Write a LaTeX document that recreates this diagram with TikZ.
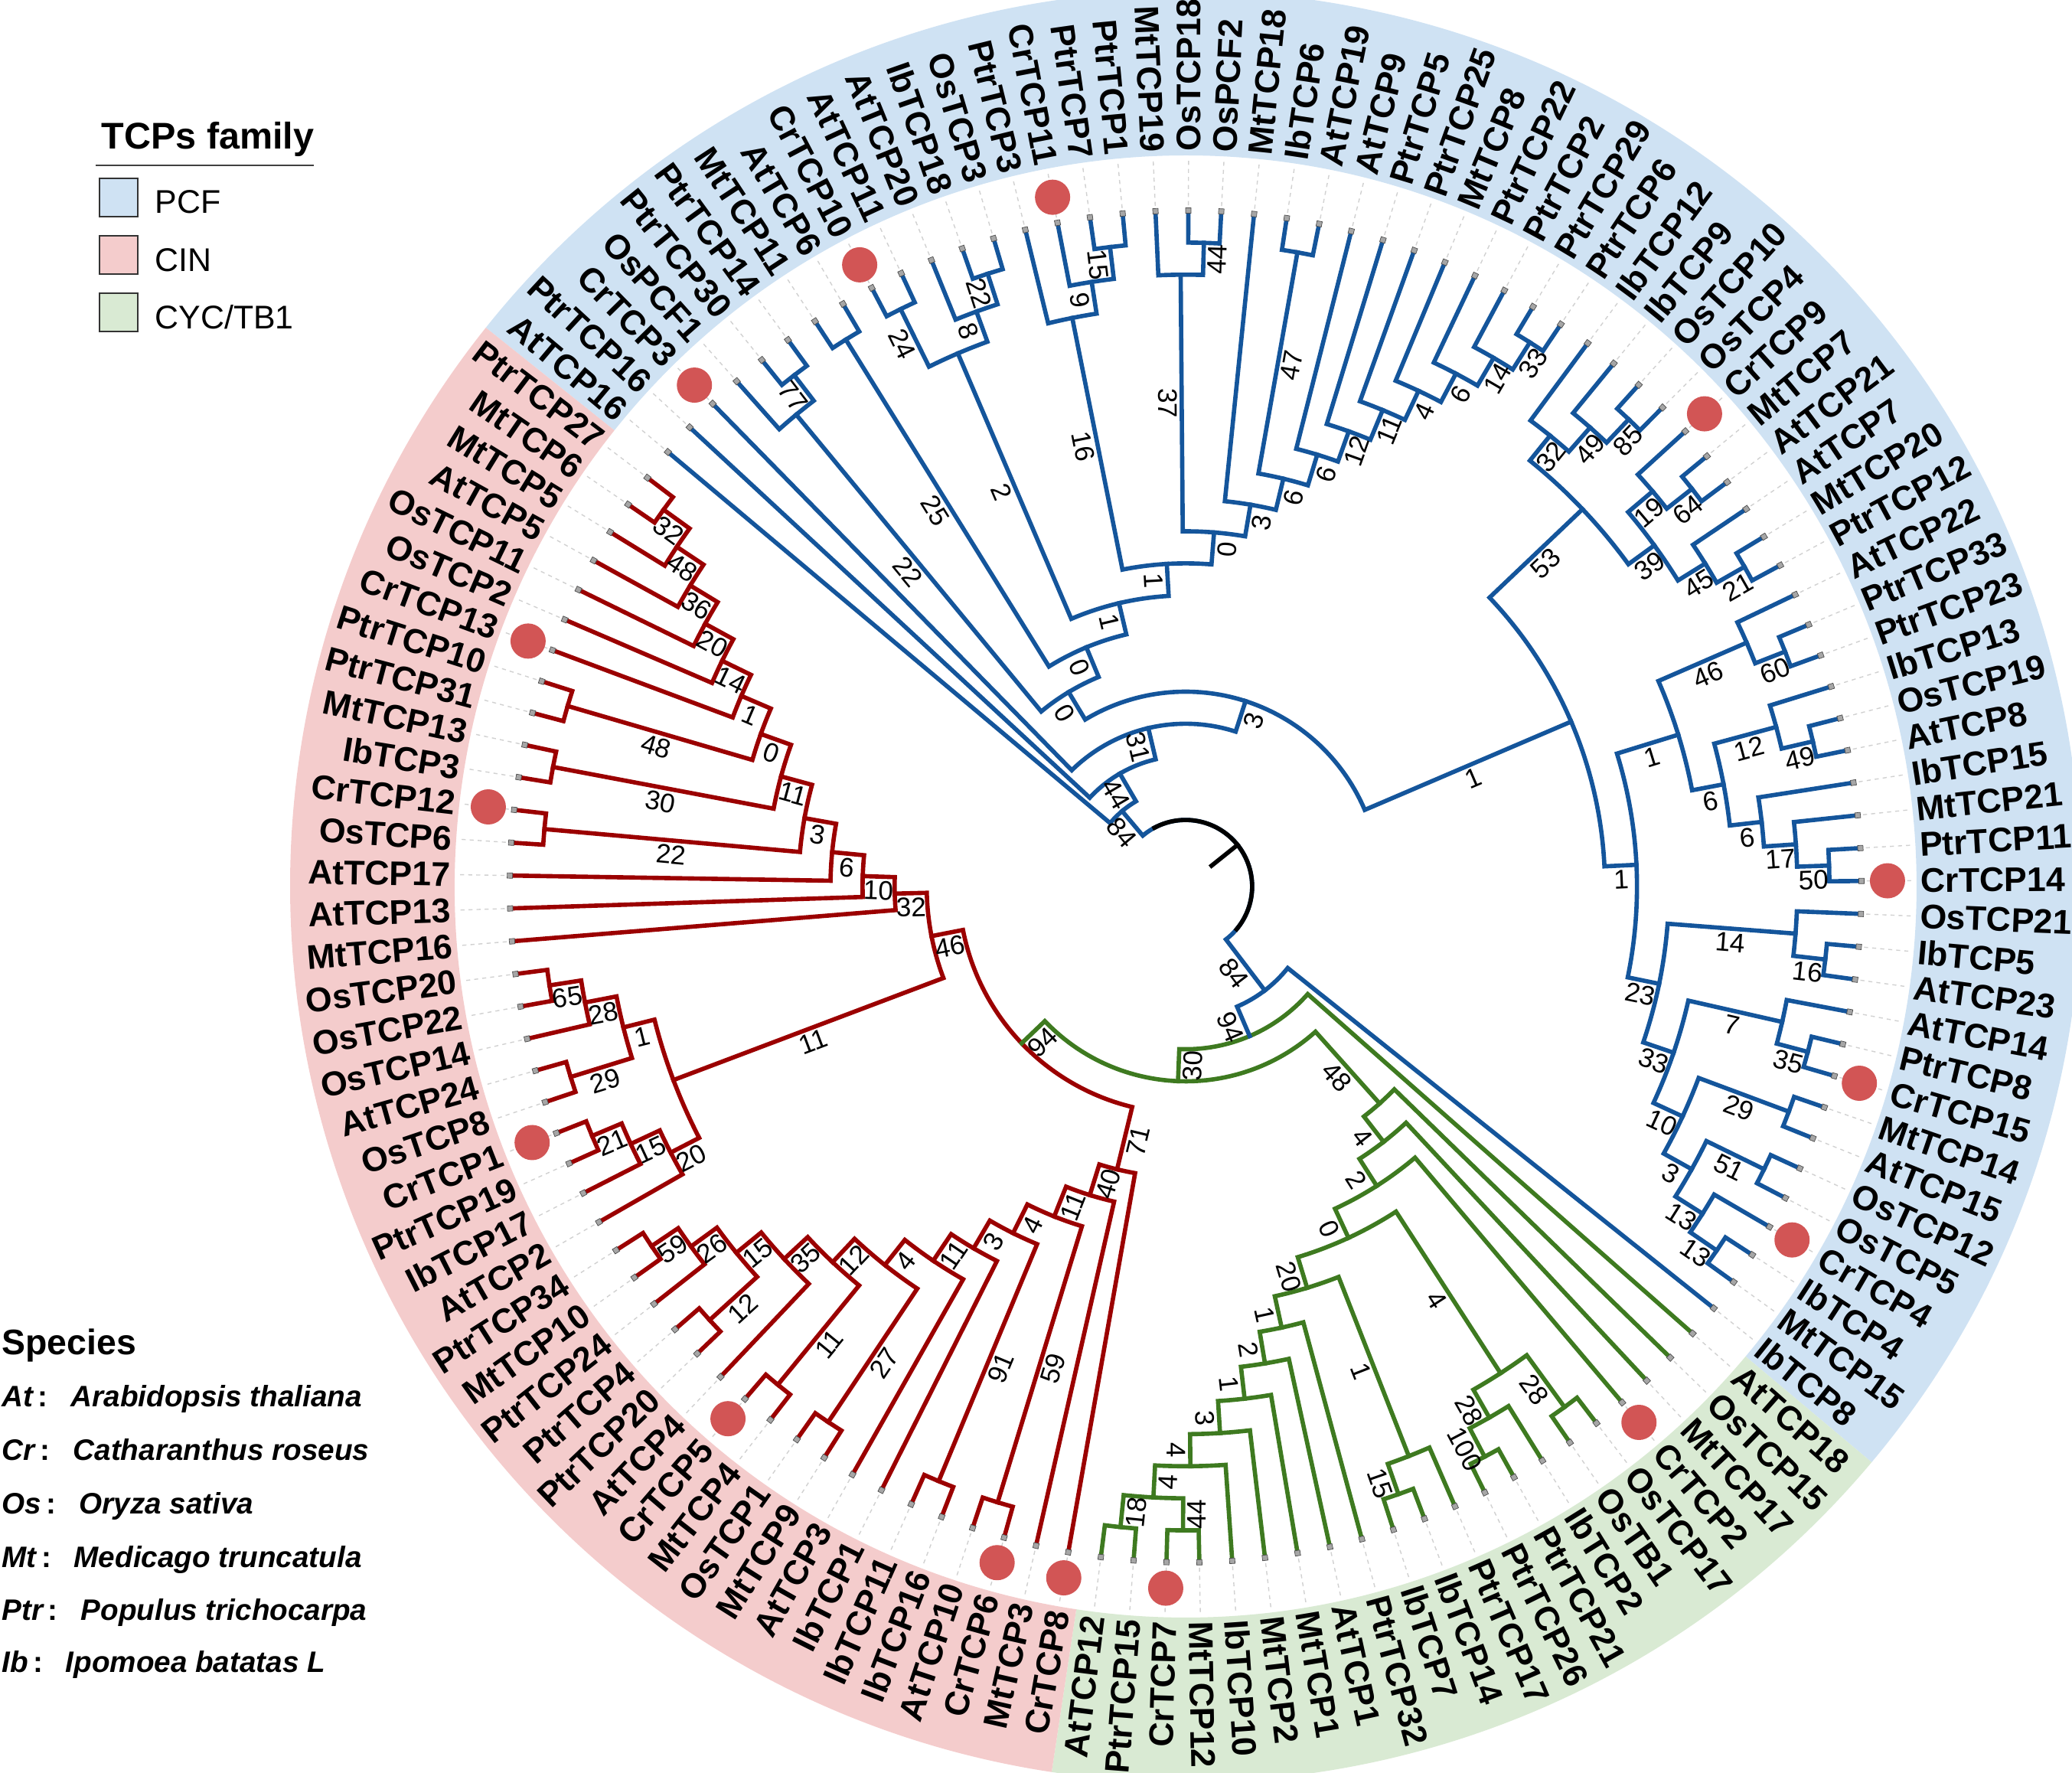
\documentclass[tikz,border=0pt]{standalone}
\usepackage{fontspec}
\setmainfont{Liberation Sans}
\usetikzlibrary{calc}

\definecolor{pcfline}{RGB}{20,85,155}
\definecolor{cinline}{RGB}{155,0,0}
\definecolor{cycline}{RGB}{62,122,32}
\definecolor{pcffill}{RGB}{207,226,243}
\definecolor{cinfill}{RGB}{244,204,204}
\definecolor{cycfill}{RGB}{217,234,211}
\definecolor{crdot}{RGB}{210,85,85}

\tikzset{
  branch/.style={line width=1.6pt, line join=miter, line cap=rect},
  bslabel/.style={anchor=north, inner sep=1.5pt, text=black, font=\fontsize{10}{12}\selectfont},
  leaflabel/.style={inner sep=0pt, text=black, font=\bfseries\fontsize{12.7}{14}\selectfont},
  tipmark/.style={rectangle, minimum size=0.07cm, inner sep=0pt, fill=black!35, draw=black!70, line width=0.2pt},
  tipline/.style={black!18, line width=0.4pt, dash pattern=on 1.5pt off 1.5pt},
  crmark/.style={circle, fill=crdot, minimum size=0.46cm, inner sep=0pt},
  legbox/.style={rectangle, draw=black!80, line width=0.5pt, minimum size=0.5cm, inner sep=0pt},
  legtext/.style={anchor=base west, inner sep=0pt, font=\fontsize{12.2}{14}\selectfont},
  sptext/.style={anchor=base west, inner sep=0pt, font=\bfseries\itshape\fontsize{11}{13}\selectfont},
}

% node radius = 8.83 - 0.419*height
\newcommand\supportlabel[2]{%
  \ifcsname bs@#1\endcsname
    \pgfmathsetmacro\angC{\csname ang@#1\endcsname}%
    \pgfmathsetmacro\radC{(\csname rad@#1\endcsname+#2)/2}%
    \pgfmathsetmacro\rotC{cos(\angC)>=0 ? \angC : \angC+180}%
    \node[bslabel, rotate=\rotC] (bs-#1) at (\angC:\radC) {\csname bs@#1\endcsname};
  \fi}
\newcommand\clade[6][]{%
  \pgfmathsetmacro\angA{\csname ang@#4\endcsname}%
  \pgfmathsetmacro\angB{\csname ang@#5\endcsname}%
  \pgfmathsetmacro\angM{(\angA+\angB)/2}%
  \pgfmathsetmacro\radM{8.83-0.419*#3}%
  \expandafter\xdef\csname ang@#2\endcsname{\angM}%
  \expandafter\xdef\csname rad@#2\endcsname{\radM}%
  \expandafter\xdef\csname bs@#2\endcsname{#6}%
  \coordinate (#2) at (\angM:\radM);
  \draw[branch,#1] (#4) -- (\angA:\radM) arc[start angle=\angA, end angle=\angB, radius=\radM] -- (#5);
  \supportlabel{#4}{\radM}%
  \supportlabel{#5}{\radM}}

\begin{document}
\begin{tikzpicture}
\useasboundingbox (-15.49,-11.58) rectangle (11.58,11.58);
\clip (-15.49,-11.58) rectangle (11.58,11.58);

% family ring
\fill[pcffill] (141.395:9.55) arc[start angle=141.395, end angle=-40, radius=9.55]
  -- (-40:11.7) arc[start angle=-40, end angle=141.395, radius=11.7] -- cycle;
\fill[cycfill] (-40:9.55) arc[start angle=-40, end angle=-98.605, radius=9.55]
  -- (-98.605:11.7) arc[start angle=-98.605, end angle=-40, radius=11.7] -- cycle;
\fill[cinfill] (-98.605:9.55) arc[start angle=-98.605, end angle=-218.605, radius=9.55]
  -- (-218.605:11.7) arc[start angle=-218.605, end angle=-98.605, radius=11.7] -- cycle;

% legends
\node[anchor=base west, inner sep=0pt, font=\bfseries\fontsize{13.8}{16}\selectfont] (famtitle) at (-14.17,9.63) {TCPs family};
\draw[black!75, line width=0.6pt] (-14.24,9.42) -- (-11.39,9.42);
\node[legbox, fill=pcffill] (boxpcf) at (-13.94,9.00) {};
\node[legtext] (txtpcf) at (-13.47,8.79) {PCF};
\node[legbox, fill=cinfill] (boxcin) at (-13.94,8.25) {};
\node[legtext] (txtcin) at (-13.47,8.03) {CIN};
\node[legbox, fill=cycfill] (boxcyc) at (-13.94,7.50) {};
\node[legtext] (txtcyc) at (-13.47,7.28) {CYC/TB1};

\node[anchor=base west, inner sep=0pt, font=\bfseries\fontsize{13.2}{16}\selectfont] (sphead) at (-15.47,-6.12) {Species};
\node[sptext] (abAt) at (-15.47,-6.80) {At\,{\upshape:}};
\node[sptext] (nmAt) at (-14.57,-6.80) {Arabidopsis thaliana};
\node[sptext] (abCr) at (-15.47,-7.50) {Cr\,{\upshape:}};
\node[sptext] (nmCr) at (-14.54,-7.50) {Catharanthus roseus};
\node[sptext] (abOs) at (-15.47,-8.20) {Os\,{\upshape:}};
\node[sptext] (nmOs) at (-14.46,-8.20) {Oryza sativa};
\node[sptext] (abMt) at (-15.47,-8.90) {Mt\,{\upshape:}};
\node[sptext] (nmMt) at (-14.53,-8.90) {Medicago truncatula};
\node[sptext] (abPtr) at (-15.47,-9.59) {Ptr\,{\upshape:}};
\node[sptext] (nmPtr) at (-14.44,-9.59) {Populus trichocarpa};
\node[sptext] (abIb) at (-15.47,-10.27) {Ib\,{\upshape:}};
\node[sptext] (nmIb) at (-14.64,-10.27) {Ipomoea batatas L};

% leaves
\foreach \nm [count=\i from 0] in {AtTCP16, PtrTCP16, CrTCP3, OsPCF1, PtrTCP30, PtrTCP14, MtTCP11, AtTCP6,
  CrTCP10, AtTCP11, AtTCP20, IbTCP18, OsTCP3, PtrTCP3, CrTCP11, PtrTCP7, PtrTCP1, MtTCP19, OsTCP18,
  OsPCF2, MtTCP18, IbTCP6, AtTCP19, AtTCP9, PtrTCP5, PtrTCP25, MtTCP8, PtrTCP22, PtrTCP2, PtrTCP29,
  PtrTCP6, IbTCP12, IbTCP9, OsTCP10, OsTCP4, CrTCP9, MtTCP7, AtTCP21, AtTCP7, MtTCP20, PtrTCP12,
  AtTCP22, PtrTCP33, PtrTCP23, IbTCP13, OsTCP19, AtTCP8, IbTCP15, MtTCP21, PtrTCP11, CrTCP14, OsTCP21,
  IbTCP5, AtTCP23, AtTCP14, PtrTCP8, CrTCP15, MtTCP14, AtTCP15, OsTCP12, OsTCP5, CrTCP4, IbTCP4,
  MtTCP15, IbTCP8,
  AtTCP18, OsTCP15, MtTCP17, CrTCP2, OsTCP17, OsTB1, IbTCP2, PtrTCP21, PtrTCP26, PtrTCP17, IbTCP14,
  IbTCP7, PtrTCP32, AtTCP1, MtTCP1, MtTCP2, IbTCP10, MtTCP12, CrTCP7, PtrTCP15, AtTCP12,
  CrTCP8, MtTCP3, CrTCP6, AtTCP10, IbTCP16, IbTCP11, IbTCP1, AtTCP3, MtTCP9, OsTCP1, MtTCP4, CrTCP5,
  AtTCP4, PtrTCP20, PtrTCP4, PtrTCP24, MtTCP10, PtrTCP34, AtTCP2, IbTCP17, PtrTCP19, CrTCP1, OsTCP8,
  AtTCP24, OsTCP14, OsTCP22, OsTCP20, MtTCP16, AtTCP13, AtTCP17, OsTCP6, CrTCP12, IbTCP3, MtTCP13,
  PtrTCP31, PtrTCP10, CrTCP13, OsTCP2, OsTCP11, AtTCP5, MtTCP5, MtTCP6, PtrTCP27} {
  \pgfmathsetmacro\leafang{140-360/129*\i}
  \expandafter\xdef\csname ang@L\i\endcsname{\leafang}
  \coordinate (L\i) at (\leafang:8.83);
  \draw[tipline] (\leafang:8.9) -- (\leafang:9.52);
  \pgfmathtruncatemacro\rside{cos(\leafang)>=0 ? 1 : 0}
  \ifnum\rside=1
    \node[leaflabel, anchor=west, rotate=\leafang] (N\i) at (\leafang:9.6) {\nm};
  \else
    \node[leaflabel, anchor=east, rotate=\leafang+180] (N\i) at (\leafang:9.6) {\nm};
  \fi
}

% PCF
\begin{scope}[color=pcfline]
\clade{n45}{1}{L4}{L5}{77}
\clade{n345}{2}{L3}{n45}{22}
\clade{n67}{1}{L6}{L7}{25}
\clade{n89}{1}{L8}{L9}{24}
\clade{n1112}{1}{L11}{L12}{22}
\clade{n1012}{2}{L10}{n1112}{8}
\clade{pA8}{3}{n89}{n1012}{2}
\clade{n1516}{1}{L15}{L16}{15}
\clade{n1416}{2}{L14}{n1516}{9}
\clade{pA10}{3}{L13}{n1416}{16}
\clade{n1819}{1}{L18}{L19}{44}
\clade{pA12}{2}{L17}{n1819}{37}
\clade{n2122}{1}{L21}{L22}{47}
\clade{n2930}{1}{L29}{L30}{33}
\clade{n2830}{2}{L28}{n2930}{14}
\clade{n2730}{3}{L27}{n2830}{6}
\clade{pA19}{4}{L26}{n2730}{4}
\clade{pA18}{5}{L25}{pA19}{11}
\clade{pA17}{6}{L24}{pA18}{12}
\clade{pA16}{7}{L23}{pA17}{6}
\clade{pA14}{8}{n2122}{pA16}{6}
\clade{pA13}{9}{L20}{pA14}{3}
\clade{pA11}{10}{pA12}{pA13}{0}
\clade{pA9}{11}{pA10}{pA11}{1}
\clade{pA7}{12}{pA8}{pA9}{1}
\clade{pA6}{13}{n67}{pA7}{0}
\clade{pA5}{14}{n345}{pA6}{0}
\clade{n3334}{1}{L33}{L34}{85}
\clade{n3234}{2}{L32}{n3334}{49}
\clade{pI}{3}{L31}{n3234}{32}
\clade{n3637}{1}{L36}{L37}{64}
\clade{n3537}{2}{L35}{n3637}{19}
\clade{n3940}{1}{L39}{L40}{21}
\clade{n3840}{2}{L38}{n3940}{45}
\clade{pJ}{3}{n3537}{n3840}{39}
\clade{pG}{4}{pI}{pJ}{53}
\clade{n4243}{1}{L42}{L43}{60}
\clade{n4143}{2}{L41}{n4243}{46}
\clade{n4546}{1}{L45}{L46}{49}
\clade{pN12}{2}{L44}{n4546}{12}
\clade{n4950}{1}{L49}{L50}{50}
\clade{n4850}{2}{L48}{n4950}{17}
\clade{pN}{3}{L47}{n4850}{6}
\clade{pM}{4}{pN12}{pN}{6}
\clade{pK}{5}{n4143}{pM}{1}
\clade{n5253}{1}{L52}{L53}{16}
\clade{pP}{2}{L51}{n5253}{14}
\clade{n5556}{1}{L55}{L56}{35}
\clade{pS}{2}{L54}{n5556}{7}
\clade{n5758}{1}{L57}{L58}{29}
\clade{n5960}{1}{L59}{L60}{51}
\clade{n6263}{1}{L62}{L63}{13}
\clade{pX}{2}{L61}{n6263}{13}
\clade{pV}{3}{n5960}{pX}{3}
\clade{pT}{4}{n5758}{pV}{10}
\clade{pQ}{5}{pS}{pT}{33}
\clade{pL}{6}{pP}{pQ}{23}
\clade{pH}{7}{pK}{pL}{1}
\clade{pF}{8}{pG}{pH}{1}
\clade{pA4}{15}{pA5}{pF}{3}
\clade{pA3}{16}{L2}{pA4}{31}
\clade{pA2}{17}{L1}{pA3}{44}
\clade{pA}{18}{L0}{pA2}{84}
\end{scope}

% CYC/TB1
\begin{scope}[color=cycline]
\clade{n6970}{1}{L69}{L70}{28}
\clade{n7273}{1}{L72}{L73}{100}
\clade{gY}{2}{L71}{n7273}{28}
\clade{gE5}{3}{n6970}{gY}{4}
\clade{n7576}{1}{L75}{L76}{15}
\clade{gE7}{2}{L74}{n7576}{1}
\clade{n8283}{1}{L82}{L83}{44}
\clade{n8485}{1}{L84}{L85}{18}
\clade{gE13}{2}{n8283}{n8485}{4}
\clade{gE12}{3}{L81}{gE13}{4}
\clade{gE11}{4}{L80}{gE12}{3}
\clade{gE10}{5}{L79}{gE11}{1}
\clade{gE9}{6}{L78}{gE10}{2}
\clade{gE8}{7}{L77}{gE9}{1}
\clade{gE6}{8}{gE7}{gE8}{20}
\clade{gE4}{9}{gE5}{gE6}{0}
\clade{gE3}{10}{L68}{gE4}{2}
\clade{gE2}{11}{L67}{gE3}{4}
\clade{gE}{12}{L66}{gE2}{48}
\end{scope}

% CIN
\begin{scope}[color=cinline]
\clade{n8889}{1}{L88}{L89}{59}
\clade{n9091}{1}{L90}{L91}{91}
\clade{n9495}{1}{L94}{L95}{27}
\clade{n9697}{1}{L96}{L97}{11}
\clade{n99100}{1}{L99}{L100}{12}
\clade{n102103}{1}{L102}{L103}{59}
\clade{n101103}{2}{L101}{n102103}{26}
\clade{cK11}{3}{n99100}{n101103}{15}
\clade{cK10}{4}{L98}{cK11}{35}
\clade{cK9}{5}{n9697}{cK10}{12}
\clade{cK8}{6}{n9495}{cK9}{4}
\clade{cK7}{7}{L93}{cK8}{11}
\clade{cK6}{8}{L92}{cK7}{3}
\clade{cK5}{9}{n9091}{cK6}{4}
\clade{cK4}{10}{n8889}{cK5}{11}
\clade{cK3}{11}{L87}{cK4}{40}
\clade{cK2}{12}{L86}{cK3}{71}
\clade{n106107}{1}{L106}{L107}{21}
\clade{n105107}{2}{L105}{n106107}{15}
\clade{n104107}{3}{L104}{n105107}{20}
\clade{n108109}{1}{L108}{L109}{29}
\clade{n111112}{1}{L111}{L112}{65}
\clade{n110112}{2}{L110}{n111112}{28}
\clade{cJ}{3}{n108109}{n110112}{1}
\clade{cA}{4}{n104107}{cJ}{11}
\clade{n116117}{1}{L116}{L117}{22}
\clade{n118119}{1}{L118}{L119}{30}
\clade{n120121}{1}{L120}{L121}{48}
\clade{n127128}{1}{L127}{L128}{32}
\clade{n126128}{2}{L126}{n127128}{48}
\clade{n125128}{3}{L125}{n126128}{36}
\clade{n124128}{4}{L124}{n125128}{20}
\clade{cI}{5}{L123}{n124128}{14}
\clade{cH}{6}{L122}{cI}{1}
\clade{cG}{7}{n120121}{cH}{0}
\clade{cF}{8}{n118119}{cG}{11}
\clade{cE}{9}{n116117}{cF}{3}
\clade{cD}{10}{L115}{cE}{6}
\clade{cC}{11}{L114}{cD}{10}
\clade{cB}{12}{L113}{cC}{32}
\clade{cP1}{13}{cA}{cB}{46}
\clade{cPk}{14}{cK2}{cP1}{94}
\end{scope}

% backbone
\clade[cycline]{jD}{15}{gE}{cPk}{30}
\clade[cycline]{jC}{16}{L65}{jD}{94}
\clade[pcfline]{jB}{17}{L64}{jC}{84}
\clade[pcfline]{treeroot}{19}{pA}{jB}{}
\draw[branch, black] (118:0.869) arc[start angle=118, end angle=-40, radius=0.869];
\draw[branch, black] (treeroot) -- ($(0,0)!0.5!(treeroot)$);

% tips and marks
\foreach \i in {0,...,128} {
  \pgfmathsetmacro\da{\csname ang@L\i\endcsname}
  \node[tipmark, rotate=\da] (T\i) at (L\i) {};
}
\foreach \i in {2,8,14,35,50,56,61,68,83,86,88,97,107,117,122} {
  \pgfmathsetmacro\da{\csname ang@L\i\endcsname}
  \node[crmark] (D\i) at (\da:9.17) {};
}
\end{tikzpicture}
\end{document}
